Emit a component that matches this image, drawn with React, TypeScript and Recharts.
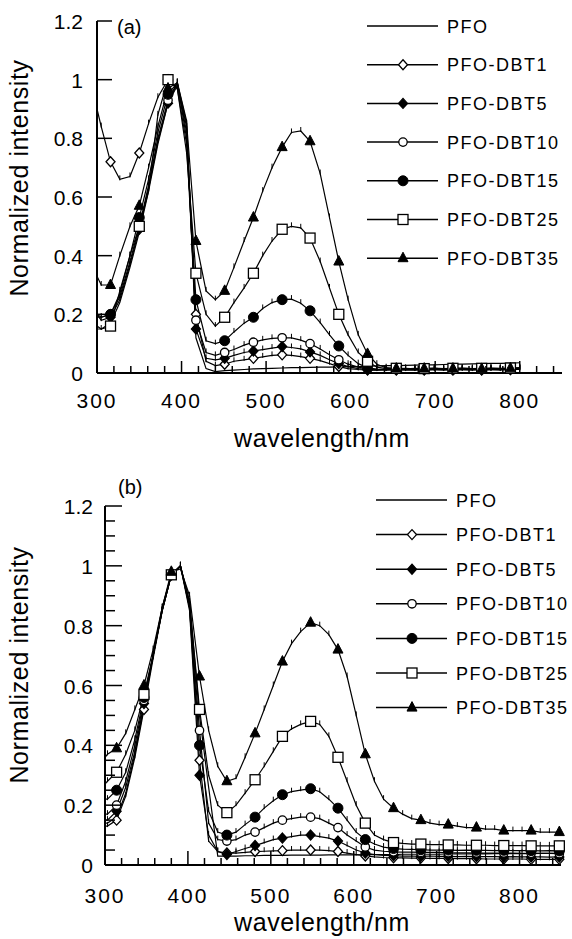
import React from 'react';
import { LineChart, Line, XAxis, YAxis, Legend } from 'recharts';

const FONT = '"Liberation Sans", Arial, Helvetica, sans-serif';

const seriesNames = ['PFO', 'PFO-DBT1', 'PFO-DBT5', 'PFO-DBT10', 'PFO-DBT15', 'PFO-DBT25', 'PFO-DBT35'];
const seriesShapes = ['none', 'diamondOpen', 'diamond', 'circleOpen', 'circle', 'squareOpen', 'triangle'];

const xTicks = [300, 320, 340, 360, 380, 400, 420, 440, 460, 480, 500, 520, 540, 560, 580, 600, 620, 640, 660, 680, 700, 720, 740, 760, 780, 800, 820, 840];
const yTicksA = [0, 0.2, 0.4, 0.6, 0.8, 1, 1.2];
const yTicksB = [0, 0.05, 0.1, 0.15, 0.2, 0.25, 0.3, 0.35, 0.4, 0.45, 0.5, 0.55, 0.6, 0.65, 0.7, 0.75, 0.8, 0.85, 0.9, 0.95, 1, 1.05, 1.1, 1.15, 1.2];

// (a) wavelengths, nm
const wavelengthA = [300, 305, 316, 327, 339, 350, 361, 372, 384, 395, 406, 417, 429, 440, 451, 462, 474, 485, 496, 507, 519, 530, 541, 552, 564, 575, 586, 597, 609, 620, 631, 642, 654, 665, 676, 687, 699, 710, 721, 732, 744, 755, 766, 777, 789, 800];
const pfoA = [0.15, 0.15, 0.17, 0.24, 0.36, 0.48, 0.62, 0.78, 0.92, 0.99, 0.86, 0.12, 0.015, 0.005, 0.008, 0.01, 0.012, 0.014, 0.015, 0.016, 0.017, 0.018, 0.018, 0.019, 0.02, 0.02, 0.021, 0.022, 0.022, 0.023, 0.024, 0.025, 0.025, 0.026, 0.027, 0.028, 0.028, 0.029, 0.03, 0.03, 0.031, 0.032, 0.033, 0.033, 0.034, 0.035];
const dbt1A = [0.9, 0.84, 0.72, 0.66, 0.67, 0.75, 0.85, 0.94, 1.0, 0.97, 0.78, 0.2, 0.04, 0.025, 0.03, 0.04, 0.045, 0.05, 0.055, 0.06, 0.062, 0.06, 0.056, 0.05, 0.042, 0.032, 0.022, 0.015, 0.012, 0.01, 0.01, 0.012, 0.01, 0.011, 0.012, 0.01, 0.011, 0.012, 0.01, 0.011, 0.012, 0.01, 0.011, 0.012, 0.012, 0.013];
const dbt5A = [0.2, 0.18, 0.19, 0.25, 0.37, 0.49, 0.63, 0.79, 0.92, 0.98, 0.84, 0.15, 0.05, 0.045, 0.05, 0.06, 0.07, 0.075, 0.08, 0.085, 0.09, 0.087, 0.082, 0.072, 0.06, 0.045, 0.032, 0.022, 0.015, 0.012, 0.01, 0.011, 0.012, 0.01, 0.01, 0.012, 0.011, 0.01, 0.012, 0.011, 0.01, 0.012, 0.011, 0.01, 0.012, 0.012];
const dbt10A = [0.19, 0.19, 0.2, 0.26, 0.38, 0.5, 0.64, 0.8, 0.93, 0.99, 0.82, 0.18, 0.07, 0.06, 0.07, 0.08, 0.095, 0.105, 0.113, 0.118, 0.12, 0.12, 0.112, 0.1, 0.082, 0.062, 0.045, 0.03, 0.02, 0.014, 0.012, 0.01, 0.012, 0.013, 0.011, 0.012, 0.013, 0.012, 0.011, 0.013, 0.012, 0.012, 0.013, 0.012, 0.013, 0.014];
const dbt15A = [0.2, 0.19, 0.2, 0.27, 0.4, 0.53, 0.66, 0.82, 0.95, 0.99, 0.8, 0.25, 0.11, 0.1, 0.11, 0.14, 0.17, 0.19, 0.22, 0.24, 0.25, 0.252, 0.238, 0.212, 0.172, 0.13, 0.092, 0.06, 0.032, 0.018, 0.013, 0.012, 0.014, 0.012, 0.013, 0.014, 0.012, 0.013, 0.015, 0.013, 0.012, 0.014, 0.013, 0.014, 0.015, 0.014];
const dbt25A = [0.16, 0.15, 0.16, 0.28, 0.4, 0.5, 0.62, 0.88, 1.0, 0.97, 0.75, 0.34, 0.2, 0.16, 0.19, 0.24, 0.29, 0.34, 0.4, 0.45, 0.49, 0.5, 0.495, 0.46, 0.38, 0.29, 0.2, 0.13, 0.07, 0.04, 0.02, 0.015, 0.016, 0.014, 0.016, 0.015, 0.017, 0.015, 0.016, 0.017, 0.015, 0.016, 0.017, 0.016, 0.017, 0.018];
const dbt35A = [0.33, 0.3, 0.3, 0.4, 0.5, 0.57, 0.7, 0.84, 0.97, 0.99, 0.85, 0.45, 0.28, 0.25, 0.28, 0.36, 0.45, 0.53, 0.62, 0.7, 0.77, 0.82, 0.825, 0.79, 0.68, 0.53, 0.38, 0.25, 0.13, 0.065, 0.03, 0.018, 0.015, 0.016, 0.014, 0.015, 0.016, 0.014, 0.015, 0.016, 0.015, 0.014, 0.016, 0.015, 0.016, 0.017];

// (b) wavelengths, nm
const wavelengthB = [300, 303, 314, 325, 336, 347, 358, 369, 380, 391, 402, 414, 425, 436, 447, 458, 469, 481, 492, 503, 514, 525, 536, 548, 559, 570, 581, 592, 603, 614, 625, 636, 648, 659, 670, 681, 692, 703, 714, 725, 736, 748, 759, 770, 781, 792, 803, 814, 825, 836, 848];
const pfoB = [0.14, 0.14, 0.16, 0.24, 0.37, 0.53, 0.7, 0.86, 0.97, 1.0, 0.88, 0.5, 0.26, 0.03, 0.03, 0.03, 0.031, 0.031, 0.032, 0.032, 0.032, 0.033, 0.033, 0.033, 0.033, 0.034, 0.034, 0.034, 0.034, 0.035, 0.035, 0.035, 0.035, 0.036, 0.036, 0.036, 0.036, 0.036, 0.037, 0.037, 0.037, 0.037, 0.037, 0.038, 0.038, 0.038, 0.038, 0.038, 0.039, 0.039, 0.039];
const dbt1B = [0.13, 0.13, 0.15, 0.23, 0.36, 0.52, 0.69, 0.85, 0.97, 1.0, 0.86, 0.35, 0.08, 0.045, 0.04, 0.04, 0.042, 0.045, 0.046, 0.047, 0.048, 0.05, 0.05, 0.05, 0.05, 0.048, 0.045, 0.04, 0.035, 0.03, 0.027, 0.025, 0.024, 0.024, 0.023, 0.023, 0.022, 0.022, 0.022, 0.021, 0.021, 0.021, 0.02, 0.02, 0.02, 0.02, 0.02, 0.019, 0.019, 0.019, 0.019];
const dbt5B = [0.15, 0.15, 0.18, 0.26, 0.38, 0.54, 0.7, 0.86, 0.97, 1.0, 0.85, 0.3, 0.1, 0.045, 0.035, 0.045, 0.055, 0.065, 0.075, 0.085, 0.09, 0.095, 0.1, 0.1, 0.095, 0.09, 0.08, 0.065, 0.05, 0.04, 0.035, 0.032, 0.031, 0.03, 0.03, 0.029, 0.03, 0.029, 0.029, 0.028, 0.029, 0.028, 0.028, 0.028, 0.027, 0.028, 0.027, 0.027, 0.027, 0.026, 0.027];
const dbt10B = [0.17, 0.17, 0.2, 0.28, 0.4, 0.55, 0.7, 0.85, 0.97, 1.0, 0.87, 0.45, 0.14, 0.085, 0.08, 0.085, 0.1, 0.11, 0.125, 0.14, 0.15, 0.155, 0.16, 0.16, 0.155, 0.14, 0.125, 0.1, 0.08, 0.06, 0.05, 0.046, 0.044, 0.043, 0.043, 0.042, 0.042, 0.042, 0.041, 0.041, 0.041, 0.04, 0.04, 0.04, 0.04, 0.04, 0.039, 0.039, 0.039, 0.039, 0.038];
const dbt15B = [0.22, 0.22, 0.25, 0.31, 0.42, 0.56, 0.7, 0.85, 0.97, 1.0, 0.86, 0.4, 0.18, 0.11, 0.1, 0.11, 0.135, 0.16, 0.19, 0.215, 0.235, 0.245, 0.25, 0.255, 0.245, 0.22, 0.19, 0.15, 0.11, 0.085, 0.07, 0.06, 0.055, 0.053, 0.052, 0.051, 0.05, 0.05, 0.05, 0.049, 0.05, 0.049, 0.049, 0.048, 0.049, 0.048, 0.048, 0.048, 0.047, 0.048, 0.047];
const dbt25B = [0.27, 0.28, 0.31, 0.37, 0.45, 0.57, 0.7, 0.85, 0.97, 1.0, 0.88, 0.52, 0.3, 0.2, 0.175, 0.2, 0.24, 0.285, 0.33, 0.38, 0.43, 0.455, 0.47, 0.48, 0.47, 0.43, 0.36, 0.28, 0.2, 0.14, 0.1, 0.085, 0.075, 0.072, 0.07, 0.07, 0.068, 0.068, 0.067, 0.067, 0.066, 0.066, 0.066, 0.065, 0.065, 0.065, 0.065, 0.064, 0.064, 0.064, 0.064];
const dbt35B = [0.36, 0.37, 0.39, 0.44, 0.52, 0.6, 0.72, 0.86, 0.98, 0.99, 0.9, 0.63, 0.45, 0.33, 0.28, 0.29, 0.36, 0.44, 0.52, 0.6, 0.68, 0.74, 0.78, 0.81, 0.8, 0.77, 0.72, 0.63, 0.5, 0.37, 0.28, 0.22, 0.19, 0.17, 0.155, 0.15, 0.14, 0.135, 0.135, 0.13, 0.125, 0.125, 0.12, 0.12, 0.115, 0.115, 0.115, 0.115, 0.11, 0.11, 0.11];

const buildRows = (wl: number[], cols: number[][]) =>
  wl.map((w, i) => {
    const row: Record<string, number> = { wl: w };
    seriesNames.forEach((n, k) => {
      row[n] = cols[k][i];
    });
    return row;
  });

const dataA = buildRows(wavelengthA, [pfoA, dbt1A, dbt5A, dbt10A, dbt15A, dbt25A, dbt35A]);
const dataB = buildRows(wavelengthB, [pfoB, dbt1B, dbt5B, dbt10B, dbt15B, dbt25B, dbt35B]);

const Marker = ({ shape, cx, cy }: { shape: string; cx: number; cy: number }) => {
  const sw = 1.3;
  switch (shape) {
    case 'diamondOpen':
    case 'diamond':
      return (
        <polygon
          points={`${cx},${cy - 5} ${cx + 4.5},${cy} ${cx},${cy + 5} ${cx - 4.5},${cy}`}
          fill={shape === 'diamond' ? '#000' : '#fff'}
          stroke="#000"
          strokeWidth={sw}
        />
      );
    case 'circleOpen':
      return <circle cx={cx} cy={cy} r={4.2} fill="#fff" stroke="#000" strokeWidth={sw} />;
    case 'circle':
      return <circle cx={cx} cy={cy} r={5} fill="#000" stroke="#000" strokeWidth={1} />;
    case 'squareOpen':
      return <rect x={cx - 5} y={cy - 5} width={10} height={10} fill="#fff" stroke="#000" strokeWidth={sw} />;
    case 'triangle':
      return <polygon points={`${cx},${cy - 6} ${cx + 5},${cy + 3.5} ${cx - 5},${cy + 3.5}`} fill="#000" stroke="#000" strokeWidth={1} />;
    default:
      return null;
  }
};

// big marker every third point, small hash mark on the others
const makeDot = (shape: string) => (props: any) => {
  const { cx, cy, index } = props;
  const key = `dot-${index}`;
  if (cx == null || cy == null || shape === 'none') return <g key={key} />;
  if (index >= 2 && (index - 2) % 3 === 0) {
    return (
      <g key={key}>
        <Marker shape={shape} cx={cx} cy={cy} />
      </g>
    );
  }
  return <line key={key} x1={cx} x2={cx} y1={cy + 1} y2={cy - 4} stroke="#000" strokeWidth={1} />;
};

const XTick = (props: any) => {
  const { x, y, payload, cfg } = props;
  const v = payload.value;
  const major = v % 100 === 0;
  return (
    <g>
      <line x1={x} x2={x} y1={y} y2={y - (major ? cfg.xMajor : cfg.xMinor)} stroke="#000" strokeWidth={1.5} />
      {major && v <= 800 && (
        <text x={x} y={y + cfg.xLabelDy} textAnchor="middle" fontSize={21} letterSpacing={2} fontFamily={FONT} fill="#000">
          {v}
        </text>
      )}
    </g>
  );
};

const YTick = (props: any) => {
  const { x, y, payload, cfg } = props;
  const v = payload.value;
  const major = Math.abs(v * 5 - Math.round(v * 5)) < 1e-6;
  const label = v === 0 ? '0' : v === 1 ? '1' : v.toFixed(1);
  return (
    <g>
      <line x1={x} x2={x + (major ? cfg.yMajor : cfg.yMinor)} y1={y} y2={y} stroke="#000" strokeWidth={1.5} />
      {major && (
        <text x={x - cfg.yLabelGap} y={y + 8} textAnchor="end" fontSize={21} fontFamily={FONT} fill="#000">
          {label}
        </text>
      )}
    </g>
  );
};

const LegendBox = ({ rowGap }: { rowGap: number }) => (
  <svg width={205} height={rowGap * 7 + 10} style={{ display: 'block' }}>
    {seriesNames.map((n, k) => {
      const y = 12 + k * rowGap;
      return (
        <g key={n}>
          <line x1={0} x2={71} y1={y} y2={y} stroke="#000" strokeWidth={1.5} />
          <Marker shape={seriesShapes[k]} cx={36} cy={y} />
          <text x={80} y={y + 6.5} fontSize={18} letterSpacing={1.5} fontFamily={FONT} fill="#000">
            {n}
          </text>
        </g>
      );
    })}
  </svg>
);

const cfgA = {
  height: 460, top: 21, right: 10, yAxisW: 97, xAxisH: 87,
  xMajor: 12, xMinor: 7, yMajor: 15, yMinor: 15, xLabelDy: 35, yLabelGap: 14,
  legendLeft: 367, legendTop: 14, rowGap: 38.7,
};
const cfgB = {
  height: 469, top: 36, right: 11, yAxisW: 105, xAxisH: 74,
  xMajor: 14, xMinor: 7, yMajor: 17, yMinor: 10, xLabelDy: 38, yLabelGap: 12,
  legendLeft: 376, legendTop: 18, rowGap: 34.6,
};

const Panel = ({ data, yTicks, cfg }: { data: Record<string, number>[]; yTicks: number[]; cfg: any }) => (
  <LineChart width={572} height={cfg.height} data={data} margin={{ top: cfg.top, right: cfg.right, left: 0, bottom: 0 }}>
    <XAxis
      type="number"
      dataKey="wl"
      domain={[300, 850]}
      ticks={xTicks}
      interval={0}
      height={cfg.xAxisH}
      tickLine={false}
      tickSize={0}
      tickMargin={0}
      axisLine={{ stroke: '#000', strokeWidth: 2 }}
      tick={(p: any) => <XTick {...p} cfg={cfg} />}
    />
    <YAxis
      type="number"
      domain={[0, 1.2]}
      ticks={yTicks}
      interval={0}
      width={cfg.yAxisW}
      tickLine={false}
      tickSize={0}
      tickMargin={0}
      axisLine={{ stroke: '#000', strokeWidth: 2 }}
      tick={(p: any) => <YTick {...p} cfg={cfg} />}
    />
    {seriesNames.map((n, k) => (
      <Line
        key={n}
        dataKey={n}
        type="linear"
        stroke="#000"
        strokeWidth={1.2}
        dot={makeDot(seriesShapes[k])}
        activeDot={false}
        isAnimationActive={false}
      />
    ))}
    <Legend
      layout="vertical"
      align="center"
      verticalAlign="middle"
      wrapperStyle={{ left: cfg.legendLeft, top: cfg.legendTop, width: 205 }}
      content={() => <LegendBox rowGap={cfg.rowGap} />}
    />
  </LineChart>
);

export default function App() {
  return (
    <div style={{ position: 'absolute', left: 0, top: 0, width: 572, height: 939, background: '#fff' }}>
      <div style={{ position: 'absolute', left: 0, top: 0 }}>
        <Panel data={dataA} yTicks={yTicksA} cfg={cfgA} />
      </div>
      <div style={{ position: 'absolute', left: 0, top: 470 }}>
        <Panel data={dataB} yTicks={yTicksB} cfg={cfgB} />
      </div>
      <svg width={572} height={939} style={{ position: 'absolute', left: 0, top: 0, pointerEvents: 'none' }}>
        <g fontFamily={FONT} fill="#000">
          <text x={117} y={34} fontSize={20}>(a)</text>
          <text x={118} y={494} fontSize={20}>(b)</text>
          <text transform="translate(28,178) rotate(-90)" textAnchor="middle" fontSize={25} letterSpacing={0.6}>
            Normalized intensity
          </text>
          <text transform="translate(28,665) rotate(-90)" textAnchor="middle" fontSize={25} letterSpacing={0.6}>
            Normalized intensity
          </text>
          <text x={322} y={447} textAnchor="middle" fontSize={25} letterSpacing={0.6}>
            wavelength/nm
          </text>
          <text x={322} y={931} textAnchor="middle" fontSize={25} letterSpacing={0.6}>
            wavelength/nm
          </text>
        </g>
      </svg>
    </div>
  );
}
